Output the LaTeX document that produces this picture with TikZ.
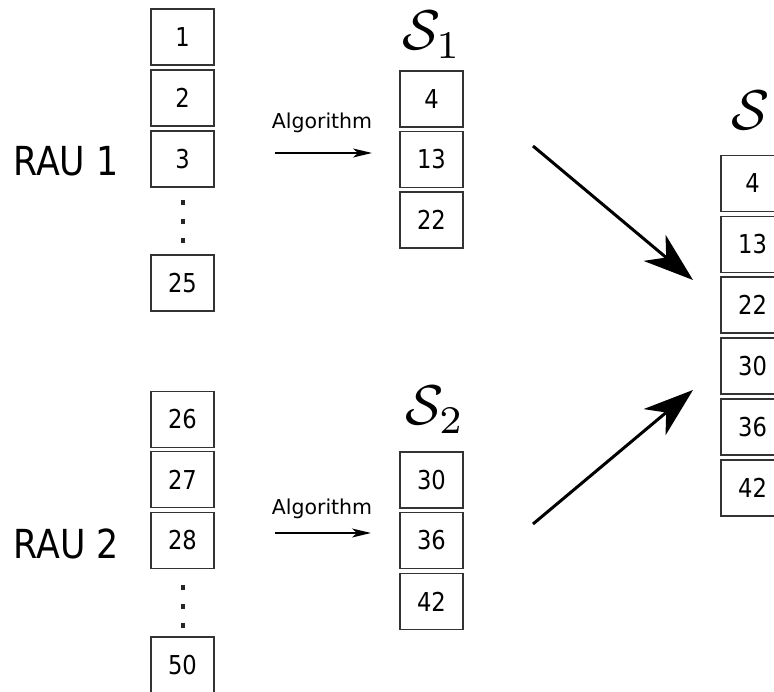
\documentclass[tikz,border=0pt]{standalone}
\usepackage[no-math]{fontspec}
\setmainfont{DejaVu Sans}
\newfontfamily\condfont{DejaVu Sans}[FakeStretch=0.87]
\usetikzlibrary{arrows.meta}
\begin{document}
\begin{tikzpicture}[x=1pt,y=-1pt,
  cell/.style={draw=black!80,line width=1.5pt,minimum width=63pt,minimum height=56pt,
    inner sep=0pt,font=\condfont\fontsize{26}{26}\selectfont},
  vdot/.style={fill=black!85,minimum width=3.6pt,minimum height=5pt,inner sep=0pt},
  raulabel/.style={inner sep=0pt,anchor=base,font=\condfont\fontsize{40}{40}\selectfont},
  algolabel/.style={inner sep=0pt,anchor=base,font=\fontsize{20.5}{20.5}\selectfont},
  setlabel/.style={inner sep=0pt,anchor=base,scale=5.6},
  smallarrow/.style={line width=1.3pt,-{Stealth[length=19pt,width=9pt,inset=5pt]}},
  bigarrow/.style={line width=3pt,-{Stealth[length=50pt,width=34pt,inset=15pt]}}]
\useasboundingbox (0,0) rectangle (774,692);

% first unit: input column
\node[raulabel] (rau1) at (66,176) {RAU 1};
\node[cell] (a1) at (182.5,37) {1};
\node[cell] (a2) at (182.5,98) {2};
\node[cell] (a3) at (182.5,159) {3};
\node[vdot] (ad1) at (183,203) {};
\node[vdot] (ad2) at (183,222) {};
\node[vdot] (ad3) at (183,241) {};
\node[cell] (a25) at (182.5,283) {25};

% first unit: algorithm step and selected set
\coordinate (alg1s) at (275,153);
\coordinate (alg1e) at (372,153);
\draw[smallarrow] (alg1s) -- (alg1e);
\node[algolabel] (alg1) at (322,129) {Algorithm};
\node[setlabel] (s1) at (432,50) {$\mathcal{S}_1$};
\node[cell] (b4) at (431.5,99) {4};
\node[cell] (b13) at (431.5,159.5) {13};
\node[cell] (b22) at (431.5,220) {22};

% second unit: input column
\node[raulabel] (rau2) at (66.5,558) {RAU 2};
\node[cell] (c26) at (182.5,419.5) {26};
\node[cell] (c27) at (182.5,479.5) {27};
\node[cell] (c28) at (182.5,540.5) {28};
\node[vdot] (cd1) at (183,587) {};
\node[vdot] (cd2) at (183,606) {};
\node[vdot] (cd3) at (183,625) {};
\node[cell] (c50) at (182.5,665) {50};

% second unit: algorithm step and selected set
\coordinate (alg2s) at (275,533);
\coordinate (alg2e) at (371,533);
\draw[smallarrow] (alg2s) -- (alg2e);
\node[algolabel] (alg2) at (322,514) {Algorithm};
\node[setlabel] (s2) at (435,425) {$\mathcal{S}_2$};
\node[cell] (d30) at (431.5,480) {30};
\node[cell] (d36) at (431.5,540.5) {36};
\node[cell] (d42) at (431.5,601.5) {42};

% union of both selected sets
\node[setlabel] (s) at (751,130) {$\mathcal{S}$};
\node[cell] (e4) at (752.5,183.5) {4};
\node[cell] (e13) at (752.5,244.5) {13};
\node[cell] (e22) at (752.5,305) {22};
\node[cell] (e30) at (752.5,366) {30};
\node[cell] (e36) at (752.5,427) {36};
\node[cell] (e42) at (752.5,488) {42};

% merging arrows
\coordinate (m1s) at (533,146);
\coordinate (m1e) at (693,280);
\coordinate (m2s) at (533,524);
\coordinate (m2e) at (693,390);
\draw[bigarrow] (m1s) -- (m1e);
\draw[bigarrow] (m2s) -- (m2e);
\end{tikzpicture}
\end{document}
